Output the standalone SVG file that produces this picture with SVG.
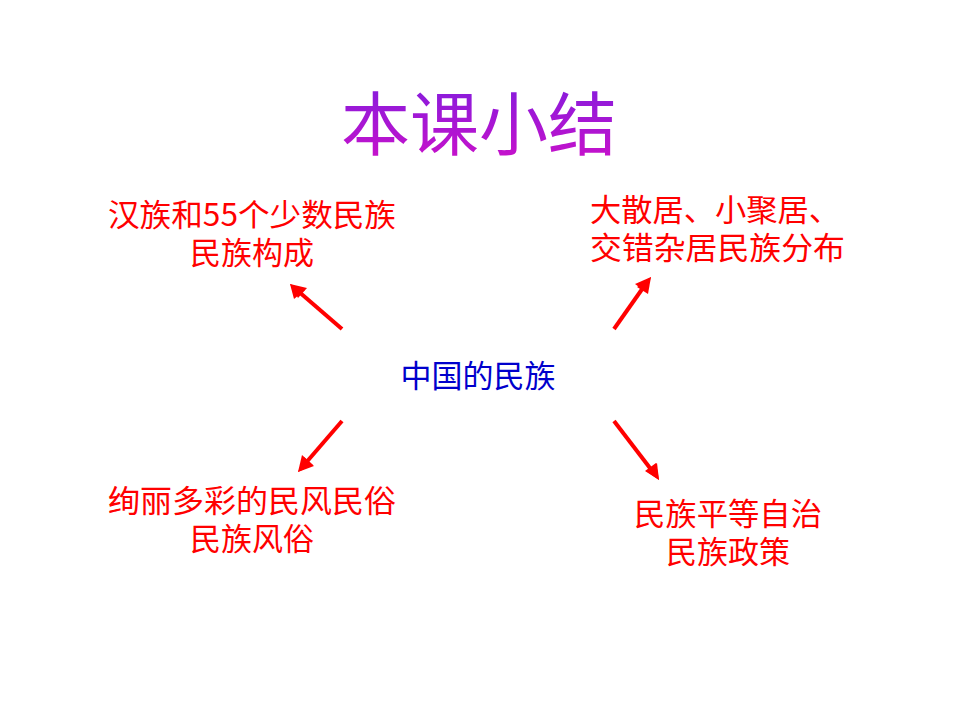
<svg xmlns="http://www.w3.org/2000/svg" width="960" height="720" viewBox="0 0 960 720">
<defs>
<linearGradient id="tg" x1="0" y1="0" x2="0" y2="1">
<stop offset="0" stop-color="#7a1ee0"/><stop offset="1" stop-color="#d010c8"/>
</linearGradient>
<style>
text{font-family:"Noto Sans CJK SC","Noto Sans",sans-serif}
.lbl{font-size:31px;fill:#ff0000}
.ar{stroke:#ff0000;stroke-width:4;fill:none}
.hd{fill:#ff0000}
</style>
</defs>
<rect width="960" height="720" fill="#fff"/>
<g id="title"><text x="479" y="150" font-size="69" text-anchor="middle" fill="url(#tg)">本课小结</text></g>
<g id="center"><text x="478" y="387" font-size="31" text-anchor="middle" fill="#0000cc">中国的民族</text></g>
<g id="n1"><text class="lbl" x="252" y="226" text-anchor="middle" textLength="288" lengthAdjust="spacingAndGlyphs">汉族和55个少数民族</text><text class="lbl" x="252" y="264" text-anchor="middle">民族构成</text></g>
<g id="n2"><text class="lbl" x="590" y="221" textLength="250" lengthAdjust="spacingAndGlyphs">大散居、小聚居、</text><text class="lbl" x="590" y="259" textLength="255" lengthAdjust="spacingAndGlyphs">交错杂居民族分布</text></g>
<g id="n3"><text class="lbl" x="252" y="512" text-anchor="middle" textLength="288" lengthAdjust="spacingAndGlyphs">绚丽多彩的民风民俗</text><text class="lbl" x="252" y="550" text-anchor="middle">民族风俗</text></g>
<g id="n4"><text class="lbl" x="728" y="525" text-anchor="middle" textLength="188" lengthAdjust="spacingAndGlyphs">民族平等自治</text><text class="lbl" x="728" y="563" text-anchor="middle">民族政策</text></g>
<g id="connectors">
<line class="ar" x1="342" y1="329" x2="298" y2="291"/>
<polygon class="hd" points="290,284 307,288 298,298"/>
<polygon class="hd" points="290,284 294,299 305,290"/>
<line class="ar" x1="614" y1="329" x2="645" y2="285"/>
<polygon class="hd" points="651,277 648,294 637,287"/>
<polygon class="hd" points="651,277 635,284 646,292"/>
<line class="ar" x1="342" y1="421" x2="304" y2="465"/>
<polygon class="hd" points="298,472 302,455 313,465"/>
<polygon class="hd" points="298,472 314,466 304,457"/>
<line class="ar" x1="614" y1="421" x2="653" y2="472"/>
<polygon class="hd" points="659,480 645,471 656,463"/>
<polygon class="hd" points="659,480 657,463 646,471"/>
</g>
</svg>
